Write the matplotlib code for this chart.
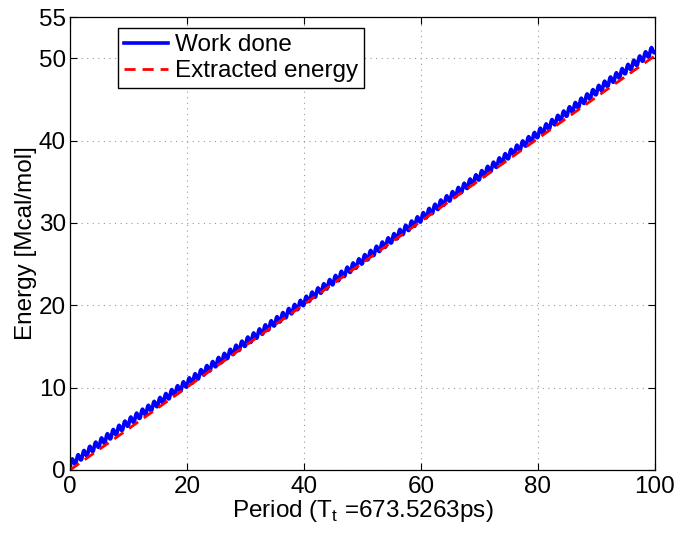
import numpy as np
import matplotlib
matplotlib.use('Agg')
from matplotlib import pyplot as plt

# values
anchor_period = [0, 10, 20, 30, 40, 50, 60, 70, 80, 90, 100]
extracted_energy = [0.0, 5.0, 10.05, 15.1, 20.1, 25.15, 30.2, 35.2, 40.25, 45.3, 50.3]
work_offset = [0.7, 0.8, 0.5, 0.4, 0.35, 0.35, 0.4, 0.5, 0.6, 0.75, 0.85]
# shape of one oscillation of the work done curve (one period, Mcal/mol)
cycle_shape = [-0.42, -0.15, 0.2, 0.4, 0.45, 0.3, 0.05, -0.2, -0.38, -0.45]

x_ticks = [0, 20, 40, 60, 80, 100]
y_ticks = [0, 10, 20, 30, 40, 50, 55]

plt.rcParams['font.family'] = ['Liberation Sans', 'DejaVu Sans']
fs = 17.5

n_per = len(cycle_shape)
t = np.arange(0, 100 * n_per + 1) / n_per
base = np.interp(t, anchor_period, extracted_energy) + np.interp(t, anchor_period, work_offset)
work_done = base + np.resize(np.array(cycle_shape), t.size)

fig = plt.figure(figsize=(6.77, 5.33), dpi=100)
ax = fig.add_axes([0.1034, 0.1182, 0.8641, 0.8499])

ax.plot(t, work_done, color='blue', lw=2.6, label='Work done')
ax.plot(anchor_period, extracted_energy, color='red', lw=2.0, ls='--', dashes=(4, 2.5),
        label='Extracted energy')

ax.set_xlim(0, 100)
ax.set_ylim(0, 55)
ax.set_xticks(x_ticks)
ax.set_yticks(y_ticks)
ax.tick_params(direction='in', labelsize=fs, length=5, top=True, right=True, width=0.8, pad=2)
ax.tick_params(axis='x', pad=4)
ax.tick_params(axis='y', pad=3)
ax.grid(True, color='#999999', ls=(0, (1, 4)), lw=0.8)
for s in ax.spines.values():
    s.set_linewidth(0.9)

ax.set_xlabel('Period (T$_{\\mathregular{t}}$ =673.5263ps)', fontsize=fs, labelpad=0)
ax.set_ylabel('Energy [Mcal/mol]', fontsize=fs, labelpad=1)

leg = ax.legend(loc='upper left', bbox_to_anchor=(0.082, 0.975), fontsize=fs,
                fancybox=False, framealpha=1, edgecolor='black', borderpad=0.25,
                handlelength=1.8, handletextpad=0.3, labelspacing=0.15, borderaxespad=0)
leg.get_frame().set_linewidth(1.0)

fig.savefig('out.png', dpi=100)
